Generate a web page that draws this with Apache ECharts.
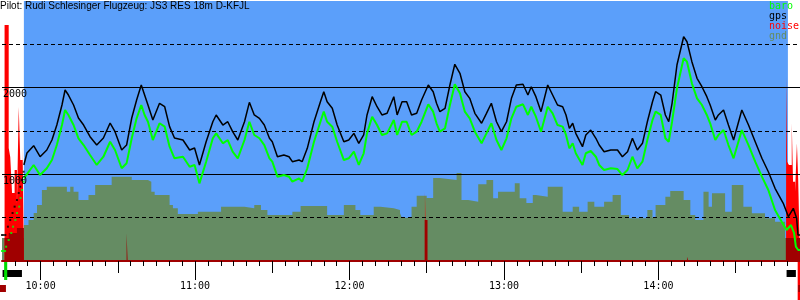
<!DOCTYPE html>
<html><head><meta charset="utf-8">
<script src="https://cdn.jsdelivr.net/npm/echarts@6/dist/echarts.min.js"></script>
<style>html,body{margin:0;padding:0;background:#fff}#c{width:800px;height:300px}</style>
</head><body><div id="c"></div>
<script>
// ---- data (time in minutes after midnight, altitudes in m) ----
const titleText = 'Pilot: Rudi Schlesinger Flugzeug: JS3 RES 18m D-KFJL';
const legendNames = ['baro', 'gps', 'noise', 'gnd'];
const hourTicks = [600, 660, 720, 780, 840];
const halfHourTicks = [630, 690, 750, 810, 870];
const altLabelValues = [1000, 2000];
const solidLevels = [1000, 2000];
const dashedLevels = [500, 1500, 2500];
const flightSpan = [593.5, 890.3];

const gpsTime = [593.5,594.7,597.3,599.8,602.4,604.4,606.3,608.3,609.5,610.8,612.8,614.7,616.7,619.2,621.8,624.4,627.0,628.9,631.5,633.4,635.4,637.3,639.1,640.4,641.7,643.6,646.2,648.2,650.1,652.0,655.3,657.9,659.8,661.7,664.3,666.9,668.2,670.8,672.7,674.6,676.6,679.2,681.1,683.0,685.0,686.9,688.9,690.0,692.0,694.5,696.5,697.8,700.4,701.6,703.6,706.2,708.7,710.0,711.3,713.3,715.2,717.8,719.7,721.7,723.6,725.5,726.8,728.8,730.7,732.6,734.6,737.2,738.5,740.4,742.2,744.1,746.1,748.0,750.6,752.5,753.8,755.1,757.1,759.0,760.9,762.9,764.8,766.7,768.7,771.3,773.2,775.1,777.1,779.0,781.0,782.9,784.8,787.4,789.3,790.6,792.4,794.4,797.0,798.9,800.8,802.8,804.1,805.4,806.7,807.9,810.5,811.8,813.7,815.7,817.0,818.9,821.5,824.1,826.0,828.0,829.9,831.8,833.8,835.7,837.7,838.9,840.9,842.7,844.0,845.3,847.2,849.8,851.1,853.0,855.0,856.9,858.8,860.1,862.1,863.3,865.3,867.2,869.2,872.4,875.0,877.6,880.2,882.7,885.3,888.5,890.5,892.4,893.7,894.2,895.0];
const gpsAlt = [1108,1246,1330,1203,1281,1396,1569,1800,1973,1915,1800,1650,1569,1434,1338,1419,1592,1492,1281,1338,1650,1858,2031,1915,1800,1627,1820,1780,1550,1419,1396,1281,1304,1108,1376,1607,1685,1569,1607,1492,1396,1607,1831,1685,1646,1569,1416,1376,1203,1223,1203,1146,1165,1146,1300,1607,1838,1953,1838,1762,1569,1376,1396,1473,1358,1454,1685,1896,1780,1685,1704,1896,1685,1838,1838,1685,1704,1858,2031,1953,1820,1723,1762,2031,2270,2166,1953,1877,1704,1589,1704,1820,1607,1492,1607,1877,2031,2039,1915,2011,1896,1723,2031,1915,1800,1780,1685,1531,1589,1473,1319,1454,1511,1416,1338,1261,1281,1281,1203,1261,1416,1281,1358,1607,1838,1953,1915,1685,1607,1820,2261,2588,2530,2300,2108,2011,1896,1800,1627,1685,1742,1569,1396,1742,1569,1376,1185,1030,839,666,511,608,493,300,300];

const baroTime = [593.5,597.3,599.8,602.4,604.4,606.3,608.3,609.5,610.8,612.8,614.7,616.7,619.2,621.8,624.4,627.0,628.9,631.5,633.4,635.4,637.3,639.1,640.4,641.7,643.6,646.2,648.2,650.1,652.0,655.3,657.9,659.8,661.7,664.3,666.9,668.2,670.8,672.7,674.6,676.6,679.2,681.1,683.0,685.0,686.9,688.9,690.0,692.0,694.5,696.5,697.8,700.4,701.6,703.6,706.2,708.7,710.0,711.3,713.3,715.2,717.8,719.7,721.7,723.6,725.5,726.8,728.8,730.7,732.6,734.6,737.2,738.5,740.4,742.2,744.1,746.1,748.0,750.6,752.5,753.8,755.1,757.1,759.0,760.9,762.9,764.8,766.7,768.7,771.3,773.2,775.1,777.1,779.0,781.0,782.9,784.8,787.4,789.3,790.6,792.4,794.4,797.0,798.9,800.8,802.8,804.1,805.4,806.7,807.9,810.5,811.8,813.7,815.7,817.0,818.9,821.5,824.1,826.0,828.0,829.9,831.8,833.8,835.7,837.7,838.9,840.9,842.7,844.0,845.3,847.2,849.8,851.1,853.0,855.0,856.9,858.8,860.1,862.1,863.3,865.3,867.2,869.2,872.4,875.0,877.6,880.2,882.7,885.3,887.9,889.8,891.5,892.7,893.4,894.3,895.0];
const baroAlt = [954,1108,992,1070,1165,1338,1569,1742,1685,1569,1416,1338,1223,1108,1203,1376,1281,1070,1127,1416,1646,1800,1685,1607,1396,1589,1550,1319,1185,1203,1088,1108,896,1146,1416,1473,1358,1396,1261,1185,1396,1607,1454,1416,1338,1185,1146,973,992,973,915,954,915,1070,1376,1607,1723,1607,1550,1376,1165,1185,1261,1108,1243,1473,1665,1569,1454,1473,1627,1454,1607,1607,1454,1492,1607,1808,1723,1589,1492,1531,1800,2039,1935,1723,1646,1492,1358,1473,1589,1396,1281,1416,1646,1780,1808,1685,1780,1665,1492,1780,1704,1569,1550,1454,1300,1358,1243,1108,1243,1269,1203,1108,1050,1070,1061,992,1050,1203,1070,1146,1396,1627,1723,1685,1416,1376,1607,1993,2339,2300,2050,1877,1800,1685,1589,1396,1454,1511,1338,1185,1511,1338,1146,973,819,588,453,358,415,323,165,127,127];

const towGpsTime = [585.0,585.6,586.3,587.3,588.2,589.1,589.9,590.8,591.5,592.1,592.8,593.4];
const towGpsAlt = [300,300,300,396,473,554,627,704,785,857,935,1030];
const towBaroTime = [585.0,585.6,586.2,586.6,587.6,588.6,589.3,590.2,590.8,591.7,592.2,592.8,593.4];
const towBaroAlt = [115,115,115,165,242,323,396,473,554,627,727,819,915];

const gndTime = [585.0,593.5,595.3,597.3,598.6,600.5,602.4,610.2,611.5,612.8,614.7,618.6,621.2,627.6,635.4,641.7,643.0,644.3,650.1,651.4,653.3,661.1,670.1,679.2,683.0,685.6,688.1,697.8,701.0,711.3,717.8,722.3,724.2,729.4,732.0,737.2,739.6,740.3,744.1,746.1,750.0,752.5,755.1,761.6,763.5,766.1,770.0,773.2,775.8,777.7,784.2,786.1,788.7,791.2,792.4,797.0,802.8,806.7,809.2,812.5,815.1,818.9,822.2,825.4,828.6,835.7,837.7,838.9,842.7,844.6,849.8,852.4,854.3,857.5,859.5,860.8,865.9,868.5,873.0,876.3,881.4,885.3,889.2,895.0];
const gndAlt = [265,415,473,554,646,819,857,800,857,800,704,762,877,973,935,915,800,762,646,608,542,569,627,608,646,588,531,569,635,531,646,588,531,627,608,588,554,500,627,753,727,958,935,1015,704,684,885,935,723,800,896,723,669,762,742,857,569,627,569,684,627,684,762,531,493,588,496,646,742,808,704,531,473,800,627,781,569,877,627,550,493,453,265,265];

const noiseTime = [585.0,586.0,587.6,588.2,588.9,589.9,590.8,591.5,592.1,593.0,593.5,749.3,749.8,889.6,890.0,890.7,891.8,892.3,893.1,893.8,894.3,895.0];
const noiseMax = [0,2723,1304,1200,785,1050,646,1777,1165,1315,0,800,0,2127,1146,1108,1589,915,800,1358,935,935];
const noiseAvgTime = [585.0,586.0,587.6,590.8,593.5,633.4,633.8,749.2,750.3,851.1,851.6,889.5,893.1,893.8,895.0];
const noiseAvg = [0,265,323,381,0,320,0,473,0,50,0,265,185,265,265];

// status strips below the time axis (start, end in minutes)
const motorRuns = [[586.0, 593.5], [889.8, 893.4]];
const launchMark = [[586.6, 587.8]];
const noiseMarks = [[585.0, 587.3], [894.3, 895.0]];
const noisePeakMarks = [[894.1, 895.0]];

// ---- chart ----
const zip = (a, b) => a.map((t, i) => [t, b[i]]);
const fiveMinTicks = [];
for (let m = 590; m <= 895; m += 5) fiveMinTicks.push(m);
const fmt = v => Math.floor(v / 60) + ':' + String(Math.round(v % 60)).padStart(2, '0');
const MONO = 'DejaVu Sans Mono';
const X_MIN = 585, X_MAX = 895;

const baseX = {type: 'value', min: X_MIN, max: X_MAX, gridIndex: 0, position: 'bottom', offset: 0,
  splitLine: {show: false}, z: 10};

const chart = echarts.init(document.getElementById('c'), null, {renderer: 'canvas'});
chart.setOption({
  animation: false,
  backgroundColor: '#ffffff',
  title: {text: titleText, left: 0, top: 1, padding: 0, z: 20,
    textStyle: {fontFamily: 'Liberation Sans', fontSize: 10, fontWeight: 'normal', color: '#000'}},
  legend: {
    orient: 'vertical', left: 764, top: 1, padding: 0, itemGap: 0, itemWidth: 0, itemHeight: 10,
    icon: 'none', selectedMode: false, z: 20,
    textStyle: {fontFamily: MONO, fontSize: 10},
    data: [
      {name: 'baro', textStyle: {color: '#00ff00'}},
      {name: 'gps', textStyle: {color: '#000000'}},
      {name: 'noise', textStyle: {color: '#ff0000'}},
      {name: 'gnd', textStyle: {color: '#658c63'}}
    ]
  },
  grid: [
    {left: 0, right: 0, top: 1, bottom: 39},
    {left: 0, right: 0, top: 262, bottom: 0}
  ],
  xAxis: [
    Object.assign({}, baseX, {
      axisLine: {show: true, lineStyle: {color: '#a00000', width: 2}},
      axisTick: {show: true, customValues: hourTicks, length: 19, lineStyle: {color: '#000', width: 1}},
      axisLabel: {show: true, customValues: hourTicks, formatter: fmt, margin: 20,
        fontFamily: MONO, fontSize: 10, color: '#000'}
    }),
    Object.assign({}, baseX, {
      axisLine: {show: false},
      axisTick: {show: true, customValues: halfHourTicks, length: 12, lineStyle: {color: '#000', width: 1}},
      axisLabel: {show: false}
    }),
    Object.assign({}, baseX, {
      axisLine: {show: false},
      axisTick: {show: true, customValues: fiveMinTicks, length: 5, lineStyle: {color: '#000', width: 1}},
      axisLabel: {show: false}
    }),
    {type: 'value', gridIndex: 1, min: X_MIN, max: X_MAX, show: false}
  ],
  yAxis: [
    {type: 'value', gridIndex: 0, min: 0, max: 3000, z: 20,
      axisLine: {show: false}, axisTick: {show: false}, splitLine: {show: false},
      axisLabel: {show: true, inside: true, margin: 1, verticalAlign: 'top', padding: [2, 0, 0, 0],
        customValues: altLabelValues, formatter: v => String(v),
        fontFamily: MONO, fontSize: 10, color: '#000'}},
    {type: 'value', gridIndex: 1, min: 0, max: 38, inverse: true, show: false}
  ],
  series: [
    {name: 'bg', type: 'line', data: [], z: 0, silent: true,
      markArea: {silent: true, itemStyle: {color: '#5b9ffa'},
        data: [[{xAxis: flightSpan[0]}, {xAxis: flightSpan[1]}]]}},
    {name: 'gnd', type: 'line', step: 'end', z: 1, showSymbol: false, silent: true,
      data: zip(gndTime, gndAlt), color: '#658c63',
      lineStyle: {width: 0, opacity: 0}, areaStyle: {color: '#658c63', opacity: 1}},
    {name: 'noise', type: 'line', step: 'end', z: 2, showSymbol: false, silent: true,
      data: zip(noiseTime, noiseMax), color: '#ff0000',
      lineStyle: {width: 0, opacity: 0}, areaStyle: {color: '#ff0000', opacity: 1}},
    {name: 'noiseAvg', type: 'line', step: 'end', z: 3, showSymbol: false, silent: true,
      data: zip(noiseAvgTime, noiseAvg), color: '#a00000',
      lineStyle: {width: 0, opacity: 0}, areaStyle: {color: '#a00000', opacity: 1}},
    {name: 'levels', type: 'line', data: [], z: 4, silent: true,
      markLine: {silent: true, symbol: 'none', label: {show: false},
        data: solidLevels.map(v => ({yAxis: v, lineStyle: {color: '#000', width: 1, type: 'solid'}}))
          .concat(dashedLevels.map(v => ({yAxis: v, lineStyle: {color: '#000', width: 1, type: [4, 3]}})))}},
    {name: 'baro', type: 'line', z: 5, showSymbol: false, silent: true,
      data: zip(baroTime, baroAlt), color: '#00ff00', lineStyle: {color: '#00ff00', width: 2}},
    {name: 'baro', type: 'scatter', z: 5, silent: true, symbol: 'rect', symbolSize: 2,
      data: zip(towBaroTime, towBaroAlt), itemStyle: {color: '#00ff00'}},
    {name: 'gps', type: 'line', z: 6, showSymbol: false, silent: true,
      data: zip(gpsTime, gpsAlt), color: '#000', lineStyle: {color: '#000', width: 1.5}},
    {name: 'gps', type: 'scatter', z: 6, silent: true, symbol: 'rect', symbolSize: 2,
      data: zip(towGpsTime, towGpsAlt), itemStyle: {color: '#000'}},
    {name: 'strips', type: 'line', xAxisIndex: 3, yAxisIndex: 1, data: [], z: 7, silent: true,
      markArea: {silent: true, data: []
        .concat(motorRuns.map(r => [{xAxis: r[0], yAxis: 8, itemStyle: {color: '#000'}}, {xAxis: r[1], yAxis: 15}]))
        .concat(launchMark.map(r => [{xAxis: r[0], yAxis: 0, itemStyle: {color: '#00dd00'}}, {xAxis: r[1], yAxis: 18}]))
        .concat(noisePeakMarks.map(r => [{xAxis: r[0], yAxis: 0, itemStyle: {color: '#ff0000'}}, {xAxis: r[1], yAxis: 38}]))
        .concat(noiseMarks.map(r => [{xAxis: r[0], yAxis: 23, itemStyle: {color: '#a00000'}}, {xAxis: r[1], yAxis: 30}]))}}
  ]
});
</script>
</body></html>
